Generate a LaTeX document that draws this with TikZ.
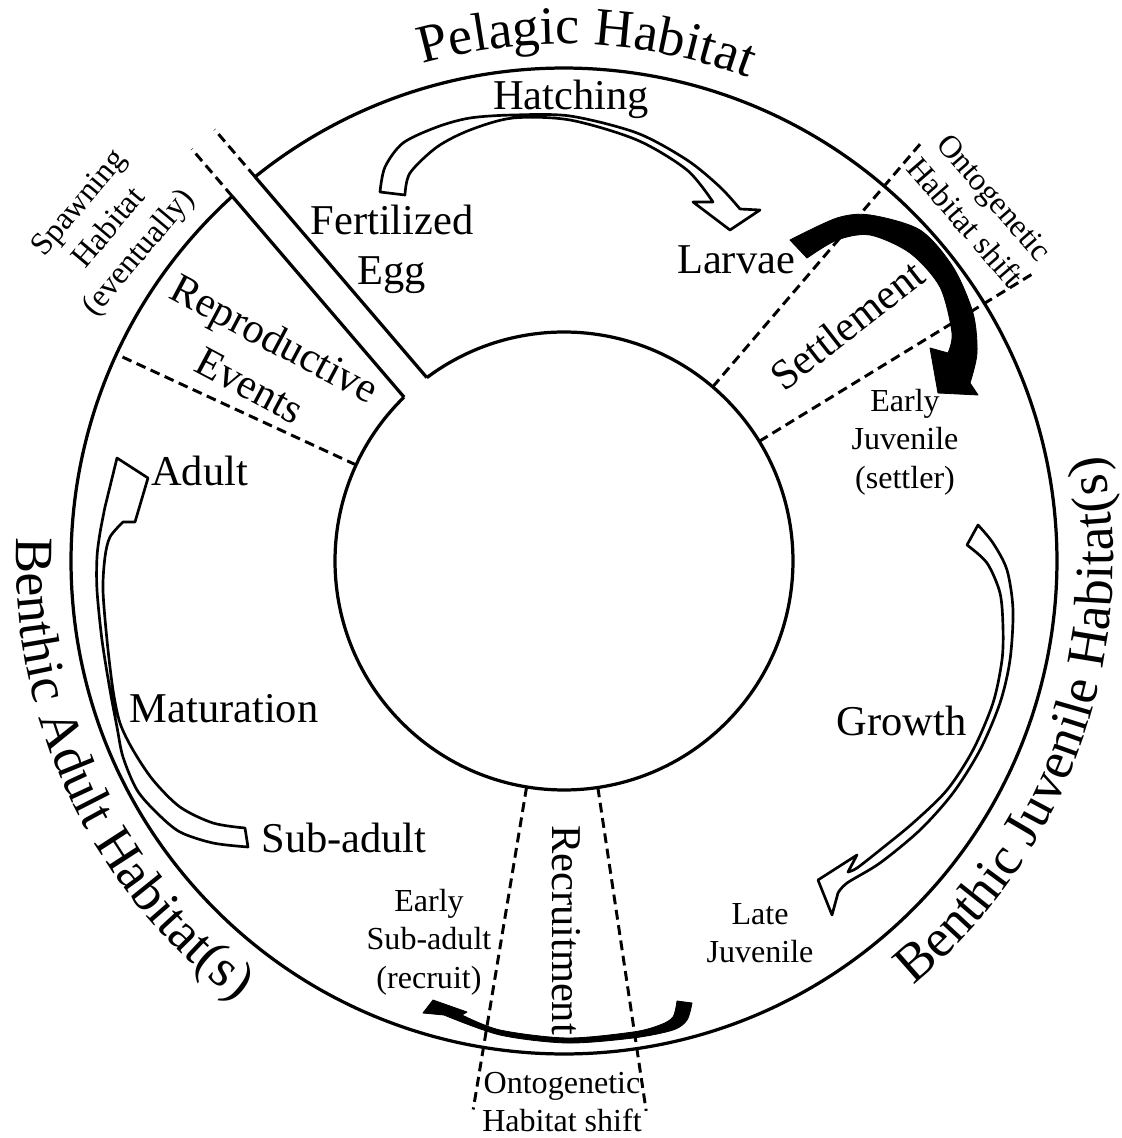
\documentclass[tikz,border=0pt]{standalone}
\usepackage{fontspec}
\setmainfont{Liberation Serif}
\usetikzlibrary{decorations.text}

\newcommand\titlesize{\fontsize{38.4}{46}\selectfont}
\newcommand\mainsize{\fontsize{30.2}{35.6}\selectfont}
\newcommand\notesize{\fontsize{22.8}{27.5}\selectfont}

\tikzset{
  ring/.style={line width=2.3pt},
  divider/.style={line width=2.1pt, dash pattern=on 7pt off 4pt},
  stage/.style={inner sep=0pt, font=\mainsize, align=center},
  note/.style={inner sep=0pt, font=\notesize, align=center},
  openarrow/.style={draw=black, fill=white, line width=1.9pt, line join=round},
  blackarrow/.style={draw=black, fill=black, line width=0.6pt, line join=round},
  arctext/.style={decorate, decoration={text along path, text align=center, text={#1}}}
}

\begin{document}
\begin{tikzpicture}[x=0.025cm, y=0.025cm]
\useasboundingbox (-564,-577) rectangle (557,561);

\draw[ring] (132.3:493) arc[start angle=132.3, end angle=488.8, radius=493];
\draw[ring] (134.3:229) arc[start angle=134.3, end angle=486.8, radius=229];
\begin{scope}[rotate=130.55]
\draw[ring] (228.5,15) -- (492.8,15);
\draw[ring] (228.5,-15) -- (492.8,-15);
\draw[divider] (492.8,15) -- (555,15);
\draw[divider] (492.8,-15) -- (555,-15);
\end{scope}

\draw[divider] (155.2:229) -- (155.2:493);
\draw[divider] (49.5:229) -- (49.5:551);
\draw[divider] (31.5:229) -- (31.5:550);
\draw[divider] (260.6:229) -- (260.6:556);
\draw[divider] (278.5:229) -- (278.5:556);

\draw[openarrow] plot[smooth] coordinates {(-184,369) (-179,394) (-161,418) (-127,434) (-94,443) (-51,446) (6,445) (73,428) (123,401) (156,374) (176,352)}
  -- (196,351) -- (166,331) -- (129,359) -- (149,359)
  -- plot[smooth] coordinates {(149,359) (123,391) (73,421) (6,441) (-51,443) (-94,431) (-127,414) (-154,388) (-159,366)} -- cycle;

\draw[blackarrow] plot[smooth] coordinates {(226,321) (273,343) (306,346) (356,331) (389,294) (409,248) (413,208) (406,178)}
  -- (414,166) -- (374,168) -- (366,213) -- (384,208)
  -- plot[smooth] coordinates {(384,208) (388,228) (376,274) (346,308) (306,326) (273,321) (243,303)} -- cycle;

\draw[openarrow] plot[smooth] coordinates {(414,36) (429,18) (443,-9) (449,-49) (446,-99) (436,-142) (416,-189) (389,-232) (356,-269) (316,-302) (283,-322) (274,-332)}
  -- (268,-354) -- (254,-319) -- (293,-294) -- (284,-311)
  -- plot[smooth] coordinates {(284,-311) (293,-307) (316,-289) (349,-262) (383,-229) (409,-189) (429,-142) (438,-99) (439,-66) (436,-32) (423,-2) (403,16)} -- cycle;

\draw[blackarrow] plot[smooth] coordinates {(128,-442) (123,-459) (109,-469) (69,-477) (3,-482) (-64,-474) (-120,-454)}
  -- (-141,-452) -- (-131,-439) -- (-97,-451)
  -- plot[smooth] coordinates {(-102,-454) (-64,-469) (3,-477) (69,-471) (96,-464) (109,-456) (113,-440)} -- cycle;

\draw[openarrow] plot[smooth] coordinates {(-316,-286) (-351,-282) (-384,-271) (-407,-252) (-427,-229) (-441,-196) (-447,-166) (-454,-129) (-462,-79) (-467,-29) (-467,4) (-464,28) (-459,54)}
  -- (-447,103) -- (-416,83) -- (-429,39) -- (-441,39)
  -- plot[smooth] coordinates {(-441,39) (-454,24) (-459,4) (-461,-29) (-457,-79) (-451,-129) (-444,-162) (-431,-189) (-411,-219) (-384,-246) (-351,-262) (-319,-267)} -- cycle;

\path[arctext={|\titlesize|Pelagic Habitat}] (117.5:517) arc[start angle=117.5, end angle=57.5, radius=517];
\path[arctext={|\titlesize|Benthic Adult Habitat(s)}] (150.5:548) arc[start angle=150.5, end angle=260.5, radius=548];
\path[arctext={|\titlesize|Benthic Juvenile Habitat(s)}] (-74.7:549) arc[start angle=-74.7, end angle=35.3, radius=549];

\node[stage, anchor=base] (hatch) at (7,451) {Hatching};
\node[stage] (egg) at (-172,312) {Fertilized\\Egg};
\node[stage, anchor=base] (larvae) at (172,287) {Larvae};
\node[stage, anchor=base] (adult) at (-364.5,76) {Adult};
\node[stage, anchor=base] (mature) at (-340,-161) {Maturation};
\node[stage, anchor=base] (subadult) at (-220,-291) {Sub-adult};
\node[stage, anchor=base] (growth) at (337.5,-174) {Growth};
\node[stage, rotate=-28] (repro) at (-301.5,199.5) {Reproductive\\[2pt]Events};
\node[stage, rotate=38] (settle) at (283,236) {Settlement};
\node[stage, rotate=-90] (recruit) at (2,-369) {Recruitment};

\node[note] (earlyjuv) at (341,119) {Early\\Juvenile\\(settler)};
\node[note] (latejuv) at (196,-372) {Late\\Juvenile};
\node[note] (earlysub) at (-135,-381) {Early\\Sub-adult\\(recruit)};
\node[note, rotate=50] (spawn) at (-454,332) {Spawning\\Habitat\\(eventually)};
\node[note, rotate=-49] (shifttop) at (416,351) {Ontogenetic\\Habitat shift};
\node[note] (shiftbottom) at (-2,-541) {Ontogenetic\\Habitat shift};
\end{tikzpicture}
\end{document}
